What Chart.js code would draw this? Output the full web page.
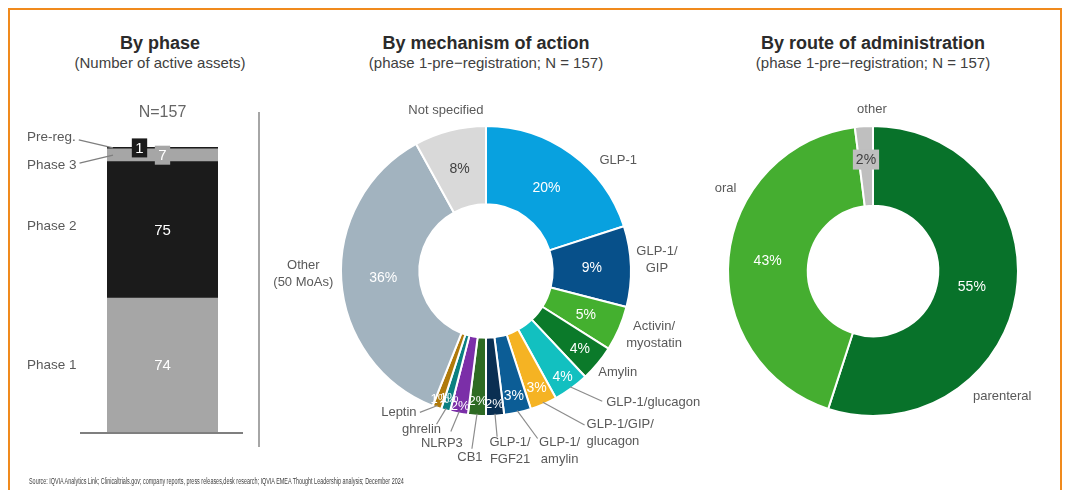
<!DOCTYPE html>
<html lang="en">
<head>
<meta charset="UTF-8">
<title>Obesity pipeline</title>
<script src="https://cdn.jsdelivr.net/npm/chart.js"></script>
<style>
    body { margin: 0; background: #fff; font-family: "Liberation Sans", Arial, sans-serif; }
    #page { position: relative; width: 1067px; height: 490px; overflow: hidden; }
    #frame { position: absolute; left: 8px; top: 8px; width: 1050px; height: 500px; border: 2px solid #f08a1d; }
    .title { position: absolute; width: 400px; text-align: center; font-weight: bold; font-size: 18px; line-height: 20px; color: #2b2b2b; }
    .sub { position: absolute; width: 400px; text-align: center; font-size: 15px; line-height: 18px; color: #404040; }
    #sep { position: absolute; left: 258px; top: 112px; width: 2px; height: 335px; background: #a6a6a6; }
    #source { position: absolute; left: 29px; top: 476px; font-size: 8.5px; line-height: 10px; color: #404040; white-space: nowrap; transform-origin: 0 0; font-family: "Liberation Sans Narrow", "Liberation Sans", Arial, sans-serif; }
    canvas { position: absolute; }
</style>
</head>
<body>
<div id="page">
    <div id="frame"></div>

    <div class="title" style="left:-40px; top:33px;">By phase</div>
    <div class="sub" style="left:-40px; top:54px;">(Number of active assets)</div>
    <div class="title" style="left:286px; top:33px;">By mechanism of action</div>
    <div class="sub" style="left:286px; top:54px;">(phase 1-pre&minus;registration; N = 157)</div>
    <div class="title" style="left:673px; top:33px;">By route of administration</div>
    <div class="sub" style="left:673px; top:54px;">(phase 1-pre&minus;registration; N = 157)</div>

    <div id="sep"></div>

    <canvas id="phaseChart" style="left:9px; top:90px;" width="250" height="370"></canvas>
    <canvas id="moaChart" style="left:262px; top:80px;" width="438" height="400"></canvas>
    <canvas id="routeChart" style="left:700px; top:80px;" width="360" height="400"></canvas>

    <div id="source">Source: IQVIA Analytics Link; Clinicaltrials.gov; company reports, press releases,desk research; IQVIA EMEA Thought Leadership analysis; December 2024</div>
</div>

<script>
    // ---- data ----
    const phaseLabels = ["Phase 1", "Phase 2", "Phase 3", "Pre-reg."];
    const phaseCounts = [74, 75, 7, 1];
    const phaseTotal = 157;

    const moaLabels = ["GLP-1", "GLP-1/\nGIP", "Activin/\nmyostatin", "Amylin", "GLP-1/glucagon",
        "GLP-1/GIP/\nglucagon", "GLP-1/\namylin", "GLP-1/\nFGF21", "CB1", "NLRP3", "ghrelin",
        "Leptin", "Other\n(50 MoAs)", "Not specified"];
    const moaShares = [20, 9, 5, 4, 4, 3, 3, 2, 2, 2, 1, 1, 36, 8];

    const routeLabels = ["parenteral", "oral", "other"];
    const routeShares = [55, 43, 2];

    // ---- styles ----
    const phaseColors = ["#a6a6a6", "#1b1b1b", "#a6a6a6", "#1b1b1b"];
    const moaColors = ["#08a1df", "#07508a", "#44b02f", "#0b7a2a", "#12c0c0", "#f5b323", "#0c5d96",
        "#0a2f52", "#2e6b23", "#7b2fa8", "#0b8080", "#b07a0a", "#a2b3bf", "#d9d9d9"];
    const routeColors = ["#08722a", "#45ae30", "#bfbfbf"];

    const FONT = '"Liberation Sans", Arial, sans-serif';
    const LABEL_GREY = "#595959";

    // fit the tiny source line to the width it has in the original
    const src = document.getElementById("source");
    src.style.transform = "scaleX(" + (375 / src.offsetWidth) + ")";

    // label placement for the phase bar: side label offsets and value box style
    const phaseLayout = [
        { dy: 0, leader: false, box: null, dx: 0 },
        { dy: -4, leader: false, box: null, dx: 0 },
        { dy: 10, leader: true, box: "#a6a6a6", dx: 0 },
        { dy: -11, leader: true, box: "#1b1b1b", dx: -23 }
    ];

    const phasePlugin = {
        id: "phaseLabels",
        afterDatasetsDraw(chart) {
            const ctx = chart.ctx;
            const area = chart.chartArea;
            const y0 = chart.scales.y.getPixelForValue(0);
            ctx.save();

            // baseline
            ctx.strokeStyle = "#7f7f7f";
            ctx.lineWidth = 2;
            ctx.beginPath();
            ctx.moveTo(area.left - 27, y0);
            ctx.lineTo(area.right + 25, y0);
            ctx.stroke();

            // N= on top
            const cx = (area.left + area.right) / 2;
            ctx.fillStyle = "#666666";
            ctx.font = "16px " + FONT;
            ctx.textAlign = "center";
            ctx.textBaseline = "middle";
            ctx.fillText("N=" + phaseTotal, cx, chart.scales.y.getPixelForValue(phaseTotal) - 34);

            chart.data.datasets.forEach((ds, i) => {
                const bar = chart.getDatasetMeta(i).data[0];
                const p = bar.getProps(["x", "y", "base", "width"], true);
                const midY = (p.y + p.base) / 2;
                const st = phaseLayout[i];

                // value
                const vx = p.x + st.dx;
                ctx.font = "15px " + FONT;
                ctx.textAlign = "center";
                ctx.textBaseline = "middle";
                if (st.box) {
                    const w = ctx.measureText(String(ds.data[0])).width + 7;
                    ctx.fillStyle = st.box;
                    ctx.fillRect(vx - w / 2, midY - 9.5, w, 19);
                }
                ctx.fillStyle = "#ffffff";
                ctx.fillText(String(ds.data[0]), vx, midY + 0.5);

                // side label
                const lx = area.left - 80;
                const ly = midY + st.dy;
                ctx.font = "13.5px " + FONT;
                ctx.textAlign = "left";
                ctx.fillStyle = LABEL_GREY;
                ctx.fillText(ds.label, lx, ly);
                if (st.leader) {
                    const tw = ctx.measureText(ds.label).width;
                    ctx.strokeStyle = "#7f7f7f";
                    ctx.lineWidth = 1.3;
                    ctx.beginPath();
                    ctx.moveTo(lx + tw + 3, ly + (st.dy > 0 ? -2 : 3));
                    ctx.lineTo(p.x - p.width / 2 + 6, midY);
                    ctx.stroke();
                }
            });
            ctx.restore();
        }
    };

    new Chart(document.getElementById("phaseChart"), {
        type: "bar",
        data: {
            labels: ["All"],
            datasets: phaseLabels.map((name, i) => ({
                label: name,
                data: [phaseCounts[i]],
                backgroundColor: phaseColors[i],
                borderWidth: 0,
                barPercentage: 1,
                categoryPercentage: 1
            }))
        },
        options: {
            responsive: false,
            animation: false,
            layout: { padding: { left: 98, right: 41, top: 57, bottom: 27 } },
            scales: {
                x: { stacked: true, display: false },
                y: { stacked: true, display: false, min: 0, max: phaseTotal }
            },
            plugins: { legend: { display: false }, tooltip: { enabled: false } }
        },
        plugins: [phasePlugin]
    });

    // ---- doughnut labels ----
    // place: text centre offset from the slice's outer mid point; lead: leader end offset; align of text
    const sliceLabelPlugin = {
        id: "sliceLabels",
        afterDatasetsDraw(chart, args, opts) {
            const ctx = chart.ctx;
            const meta = chart.getDatasetMeta(0);
            const values = chart.data.datasets[0].data;
            ctx.save();
            meta.data.forEach((arc, i) => {
                const p = arc.getProps(["x", "y", "startAngle", "endAngle", "innerRadius", "outerRadius"], true);
                const mid = (p.startAngle + p.endAngle) / 2;
                const cos = Math.cos(mid), sin = Math.sin(mid);

                // percentage inside
                const r = p.outerRadius * opts.pctRadius[i];
                const px = p.x + cos * r, py = p.y + sin * r;
                const txt = values[i] + "%";
                ctx.font = (opts.pctSize[i] || 14) + "px " + FONT;
                ctx.textAlign = "center";
                ctx.textBaseline = "middle";
                if (opts.pctBox && opts.pctBox[i]) {
                    const w = ctx.measureText(txt).width + 6;
                    ctx.fillStyle = opts.pctBox[i];
                    ctx.fillRect(px - w / 2, py - 10, w, 20);
                }
                ctx.fillStyle = opts.pctColor[i];
                ctx.fillText(txt, px, py + 0.5);

                // outside label
                const ox = p.x + cos * p.outerRadius, oy = p.y + sin * p.outerRadius;
                const pl = opts.place[i];
                const lines = chart.data.labels[i].split("\n");
                const lh = 17;
                const tx = ox + pl.dx, ty = oy + pl.dy;
                ctx.font = "13px " + FONT;
                ctx.fillStyle = LABEL_GREY;
                ctx.textAlign = pl.align || "center";
                lines.forEach((ln, k) => {
                    ctx.fillText(ln, tx, ty + (k - (lines.length - 1) / 2) * lh);
                });
                if (pl.lead) {
                    ctx.strokeStyle = "#8c8c8c";
                    ctx.lineWidth = 1.2;
                    ctx.beginPath();
                    ctx.moveTo(ox - cos * 2, oy - sin * 2);
                    ctx.lineTo(ox + pl.lead[0], oy + pl.lead[1]);
                    ctx.stroke();
                }
            });
            ctx.restore();
        }
    };

    const moaPlace = [
        { dx: 47, dy: 7 },
        { dx: 26, dy: -7 },
        { dx: 35, dy: 6 },
        { dx: 20, dy: 9 },
        { dx: 35, dy: 14, align: "left", lead: [31, 13] },
        { dx: 43, dy: 29, align: "left", lead: [41, 21] },
        { dx: 42, dy: 38, lead: [20, 26] },
        { dx: 15, dy: 35, lead: [2, 21] },
        { dx: -7, dy: 42, lead: [-5, 33] },
        { dx: -17, dy: 30, lead: [-8, 18] },
        { dx: -24, dy: 19, lead: [-9, 14] },
        { dx: -38, dy: 5, lead: [-17, 5] },
        { dx: -38, dy: -6 },
        { dx: -4, dy: -20 }
    ];
    const moaPctRadius = [0.71, 0.73, 0.75, 0.84, 0.9, 0.88, 0.88, 0.92, 0.9, 0.95, 0.91, 0.94, 0.71, 0.73];
    const moaPctColor = moaShares.map((v, i) => i === 13 ? "#404040" : "#ffffff");
    const moaPctSize = [14, 14, 14, 14, 14, 14, 14, 13, 13, 13, 13, 13, 14, 14];

    new Chart(document.getElementById("moaChart"), {
        type: "doughnut",
        data: {
            labels: moaLabels,
            datasets: [{
                data: moaShares,
                backgroundColor: moaColors,
                borderColor: "#ffffff",
                borderWidth: 2
            }]
        },
        options: {
            responsive: false,
            animation: false,
            cutout: "46%",
            layout: { padding: { left: 78, right: 68, top: 45, bottom: 63 } },
            plugins: {
                legend: { display: false },
                tooltip: { enabled: false },
                sliceLabels: { place: moaPlace, pctRadius: moaPctRadius, pctColor: moaPctColor, pctSize: moaPctSize }
            }
        },
        plugins: [sliceLabelPlugin]
    });

    new Chart(document.getElementById("routeChart"), {
        type: "doughnut",
        data: {
            labels: routeLabels,
            datasets: [{
                data: routeShares,
                backgroundColor: routeColors,
                borderColor: "#ffffff",
                borderWidth: 2
            }]
        },
        options: {
            responsive: false,
            animation: false,
            cutout: "45%",
            layout: { padding: { left: 27, right: 41, top: 45, bottom: 63 } },
            plugins: {
                legend: { display: false },
                tooltip: { enabled: false },
                sliceLabels: {
                    place: [{ dx: -14, dy: 103 }, { dx: -3, dy: -69 }, { dx: 8, dy: -17 }],
                    pctRadius: [0.69, 0.73, 0.77],
                    pctColor: ["#ffffff", "#ffffff", "#404040"],
                    pctSize: [14, 14, 14],
                    pctBox: [null, null, "#bfbfbf"]
                }
            }
        },
        plugins: [sliceLabelPlugin]
    });
</script>
</body>
</html>
